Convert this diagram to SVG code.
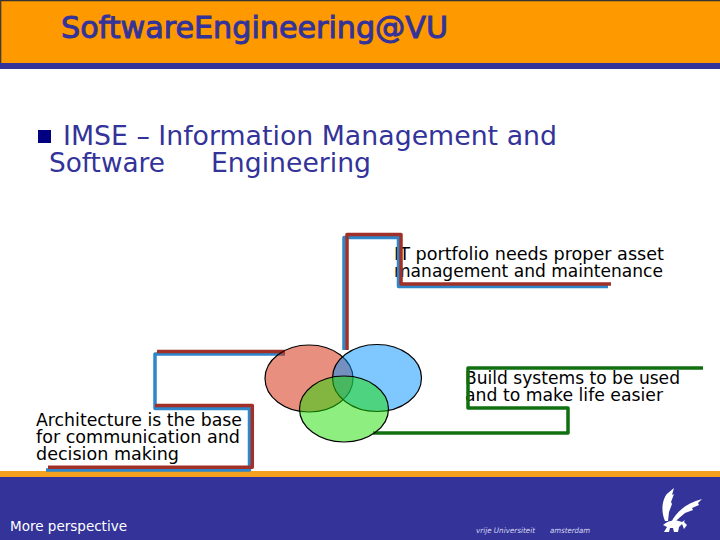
<svg xmlns="http://www.w3.org/2000/svg" width="720" height="540" viewBox="0 0 720 540">
<style>
text{font-family:"DejaVu Sans",sans-serif}
.t{font-size:26.5px;fill:#333399}
.l{font-size:17px;fill:#000}
.c{fill:none;stroke-width:3.5;stroke-linejoin:round}
.b{stroke:#2f86c8}.r{stroke:#a03028}.g{stroke:#107010}
.e{stroke:#000;stroke-width:1.2}
</style>
<rect width="720" height="540" fill="#fff"/>
<g id="header">
<rect x="0" y="0" width="720" height="63" fill="#ff9900"/>
<path d="M0.7 63V0.7H720" fill="none" stroke="#333" stroke-width="1.2"/>
<rect x="0" y="63" width="720" height="6" fill="#333399"/>
<text id="title" x="61" y="38" font-size="30.5" stroke="#333399" stroke-width="1" fill="#333399" textLength="387" lengthAdjust="spacingAndGlyphs">SoftwareEngineering@VU</text>
</g>
<g id="bullet">
<rect x="38" y="130" width="13" height="13" fill="#000080"/>
<text class="t" x="63" y="144.5" textLength="494" lengthAdjust="spacingAndGlyphs">IMSE – Information Management and</text>
<text class="t" x="49" y="171.7" textLength="116" lengthAdjust="spacingAndGlyphs">Software</text>
<text class="t" x="211" y="171.7" textLength="160" lengthAdjust="spacingAndGlyphs">Engineering</text>
</g>
<g id="footer">
<rect x="0" y="471" width="720" height="6" fill="#f5a01e"/>
<rect x="0" y="477" width="720" height="63" fill="#333399"/>
<text x="10" y="531" font-size="13.5" fill="#fff" textLength="117" lengthAdjust="spacingAndGlyphs">More perspective</text>
<text x="476" y="533" font-size="7.5" font-style="italic" fill="#d8d8f0" textLength="59" lengthAdjust="spacingAndGlyphs">vrije Universiteit</text>
<text x="550" y="533" font-size="7.5" font-style="italic" fill="#d8d8f0" textLength="40" lengthAdjust="spacingAndGlyphs">amsterdam</text>
</g>
<g id="logo" fill="#fff">
<path d="M665 521C660 510 663 497 668 493L674 488L672 495L674 494L671 502L672 504L669 512L668 521Z"/>
<path d="M671 523C675 513 686 503 702 499L698 503L699 505L692 508L693 510L685 513L678 519L673 524Z"/>
<path d="M663 525C669 519 678 520 682 522L685 520L684 522L687 525L684 529L682 524L679 527L678 532H674L673 528H670L669 532H664L667 527Z"/>
</g>
<g id="label-it"><text class="l" x="394" y="260" textLength="270" lengthAdjust="spacingAndGlyphs">IT portfolio needs proper asset</text><text class="l" x="394" y="277" textLength="269" lengthAdjust="spacingAndGlyphs">management and maintenance</text></g>
<g id="label-build"><text class="l" x="465" y="384" textLength="215" lengthAdjust="spacingAndGlyphs">Build systems to be used</text><text class="l" x="465" y="401" textLength="198" lengthAdjust="spacingAndGlyphs">and to make life easier</text></g>
<g id="label-arch"><text class="l" x="36" y="426" textLength="206" lengthAdjust="spacingAndGlyphs">Architecture is the base</text><text class="l" x="36" y="443" textLength="204" lengthAdjust="spacingAndGlyphs">for communication and</text><text class="l" x="36" y="460" textLength="143" lengthAdjust="spacingAndGlyphs">decision making</text></g>
<g id="connectors">
<path class="c b" d="M344 350V237.5H398.5V286.5H608"/>
<path class="c r" d="M347 350V234.5H401V284H611"/>
<path class="c b" d="M285 354H155V408.5H249.5V470H46"/>
<path class="c r" d="M285 351.5H157M155 405.5H252.3V467.3H48"/>
<path class="c g" d="M373 433H568V408H468V368H703"/>
</g>
<g id="venn-red"><ellipse class="e" cx="309" cy="378.5" rx="44" ry="33.5" fill="#d31f00" fill-opacity=".5"/></g>
<g id="venn-blue"><ellipse class="e" cx="377" cy="378" rx="44.5" ry="33.5" fill="#0091ff" fill-opacity=".5"/></g>
<g id="venn-green"><ellipse class="e" cx="344" cy="409" rx="44.5" ry="33" fill="#1ddd01" fill-opacity=".5"/></g>
</svg>
